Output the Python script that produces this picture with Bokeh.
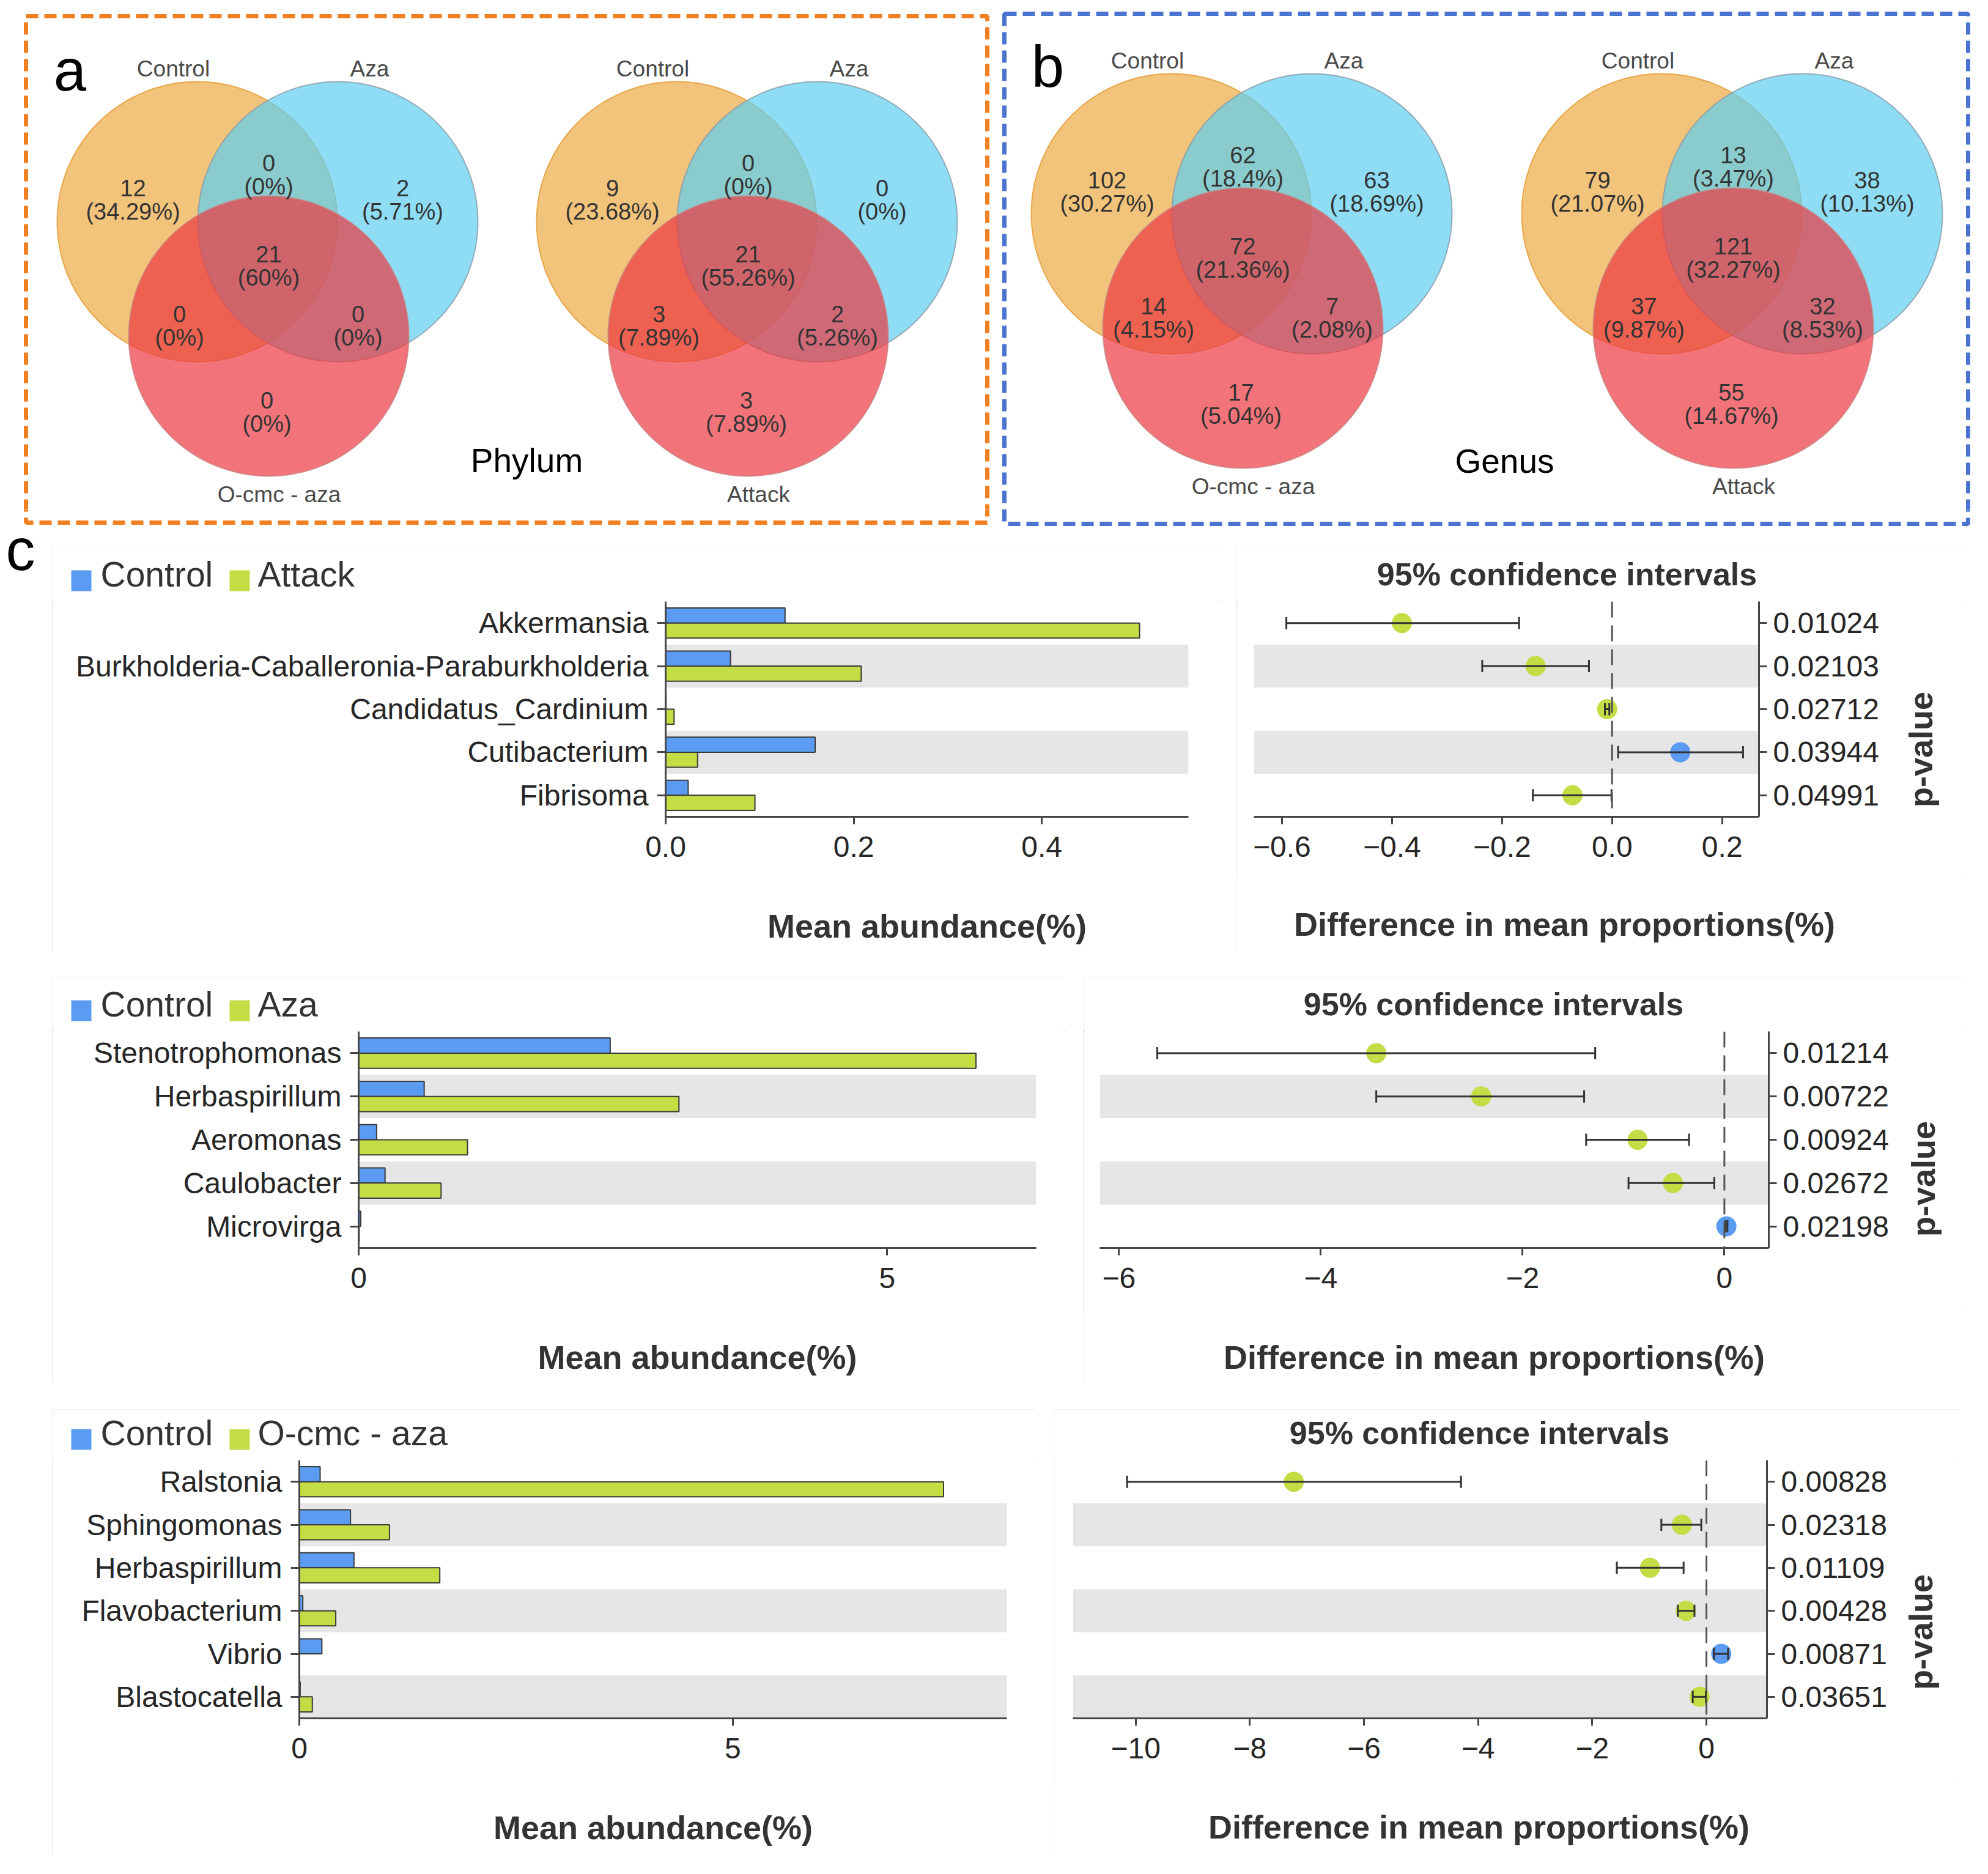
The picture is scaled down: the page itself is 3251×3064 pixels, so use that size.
import math
from bokeh.plotting import figure
from bokeh.models import (Range1d, FactorRange, Span, FixedTicker,
                          CustomJSTickFormatter, Spacer, ColumnDataSource)
from bokeh.layouts import column, row
from bokeh.transform import dodge
from bokeh.core.properties import value
from bokeh.embed import file_html
from bokeh.resources import INLINE

# ---------------------------------------------------------------- data
# Venn region order: A only, A&B, B only, A&B&C, A&C, B&C, C only
venn_a1_sets = ["Control", "Aza", "O-cmc - aza"]
venn_a1_counts = [12, 0, 2, 21, 0, 0, 0]
venn_a1_pcts = ["34.29%", "0%", "5.71%", "60%", "0%", "0%", "0%"]

venn_a2_sets = ["Control", "Aza", "Attack"]
venn_a2_counts = [9, 0, 0, 21, 3, 2, 3]
venn_a2_pcts = ["23.68%", "0%", "0%", "55.26%", "7.89%", "5.26%", "7.89%"]

venn_b1_sets = ["Control", "Aza", "O-cmc - aza"]
venn_b1_counts = [102, 62, 63, 72, 14, 7, 17]
venn_b1_pcts = ["30.27%", "18.4%", "18.69%", "21.36%", "4.15%", "2.08%", "5.04%"]

venn_b2_sets = ["Control", "Aza", "Attack"]
venn_b2_counts = [79, 13, 38, 121, 37, 32, 55]
venn_b2_pcts = ["21.07%", "3.47%", "10.13%", "32.27%", "9.87%", "8.53%", "14.67%"]

r1_genera = ["Akkermansia", "Burkholderia-Caballeronia-Paraburkholderia",
             "Candidatus_Cardinium", "Cutibacterium", "Fibrisoma"]
r1_groups = ["Control", "Attack"]
r1_control = [0.127, 0.069, 0.0005, 0.159, 0.024]
r1_treat = [0.504, 0.208, 0.009, 0.034, 0.095]
r1_diff = [-0.382, -0.139, -0.009, 0.124, -0.072]
r1_ci_low = [-0.592, -0.236, -0.013, 0.011, -0.144]
r1_ci_high = [-0.169, -0.042, -0.005, 0.238, -0.001]
r1_pvalues = ["0.01024", "0.02103", "0.02712", "0.03944", "0.04991"]
r1_abund_ticks = [0.0, 0.2, 0.4]
r1_diff_ticks = [-0.6, -0.4, -0.2, 0.0, 0.2]

r2_genera = ["Stenotrophomonas", "Herbaspirillum", "Aeromonas", "Caulobacter", "Microvirga"]
r2_groups = ["Control", "Aza"]
r2_control = [2.38, 0.62, 0.17, 0.25, 0.02]
r2_treat = [5.84, 3.03, 1.03, 0.78, 0.005]
r2_diff = [-3.45, -2.41, -0.86, -0.51, 0.02]
r2_ci_low = [-5.62, -3.45, -1.37, -0.95, 0.01]
r2_ci_high = [-1.28, -1.39, -0.35, -0.10, 0.03]
r2_pvalues = ["0.01214", "0.00722", "0.00924", "0.02672", "0.02198"]
r2_abund_ticks = [0, 5]
r2_diff_ticks = [-6, -4, -2, 0]

r3_genera = ["Ralstonia", "Sphingomonas", "Herbaspirillum", "Flavobacterium", "Vibrio", "Blastocatella"]
r3_groups = ["Control", "O-cmc - aza"]
r3_control = [0.24, 0.59, 0.63, 0.04, 0.26, 0.01]
r3_treat = [7.43, 1.04, 1.62, 0.42, 0.003, 0.15]
r3_diff = [-7.23, -0.43, -0.99, -0.36, 0.26, -0.12]
r3_ci_low = [-10.15, -0.79, -1.57, -0.50, 0.13, -0.24]
r3_ci_high = [-4.30, -0.09, -0.40, -0.21, 0.38, -0.01]
r3_pvalues = ["0.00828", "0.02318", "0.01109", "0.00428", "0.00871", "0.03651"]
r3_abund_ticks = [0, 5]
r3_diff_ticks = [-10, -8, -6, -4, -2, 0]

# ---------------------------------------------------------------- style
FONT = "Liberation Sans"
BLUE = "#5B9CF2"
GREEN = "#C4DD45"
AXC = "#454545"
TXT = "#262626"
BAND = "#e6e6e6"
BOX_STYLE = {"outline": "3px solid #dcdcdc", "outline-offset": "-3px"}

VENN_R = 229
CIRCLE_DX = [0, 230, 117]
CIRCLE_DY = [0, 0, 187]
VENN_FILL = ["#ECA941", "#5ECEF1", "#EC3840"]
VENN_LINE = ["#E39A30", "#8A9AA6", "#C98080"]
REGION_DX = [-105, 117, 336, 117, -29, 263, 114]
REGION_DY = [-36, -77, -36, 72, 170, 170, 311]
LABEL_DX = [-39, 282, 134]
LABEL_DY = [-250, -250, 446]


def blank_ref(x0, x1, y0, y1):
    """Figure whose data coordinates equal reference-image pixels."""
    p = figure(width=x1 - x0, height=y1 - y0, x_range=Range1d(x0, x1),
               y_range=Range1d(y1, y0), toolbar_location=None, output_backend="svg",
               x_axis_location=None, y_axis_location=None, min_border=0)
    p.xgrid.visible = False
    p.ygrid.visible = False
    p.outline_line_color = None
    return p


def blank(w, h):
    return blank_ref(0, w, 0, h)


def txt(p, x, y, t, size, bold=False, align="left", baseline="middle",
        color=TXT, angle=0.0):
    p.text(x=x, y=y, text=t, text_font=value(FONT), text_font_size=value(size),
           text_font_style=value("bold" if bold else "normal"),
           text_align=align, text_baseline=baseline, text_color=color, angle=angle)


def draw_boxes(p):
    p.quad(left=[50, 1650], right=[1622, 3226], top=[34, 30], bottom=[862, 864],
           fill_color=None, line_color=["#F07F22", "#4A74D0"], line_width=7,
           line_dash="20 10")


def draw_venn(p, anchor, sets, counts, pcts):
    ax, ay = anchor
    for i in range(3):
        p.circle(x=[ax + CIRCLE_DX[i]], y=[ay + CIRCLE_DY[i]], radius=VENN_R,
                 fill_color=VENN_FILL[i], fill_alpha=0.7,
                 line_color=VENN_LINE[i], line_width=2, line_alpha=0.8)
    rx = [ax + d for d in REGION_DX]
    ry = [ay + d for d in REGION_DY]
    txt(p, rx, [y - 19 for y in ry], [str(c) for c in counts], "38px",
        align="center", color="#333333")
    txt(p, rx, [y + 19 for y in ry], ["(%s)" % s for s in pcts], "38px",
        align="center", color="#333333")
    txt(p, [ax + d for d in LABEL_DX], [ay + d for d in LABEL_DY], sets, "37px",
        align="center", color="#4a4a4a")


def tick_fmt(dec):
    return CustomJSTickFormatter(args=dict(dec=dec), code=
        "const s = Math.abs(tick).toFixed(dec); return (tick < -1e-9 ? '\u2212' : '') + s;")


def style_axis(ax, out, standoff):
    ax.axis_line_color = AXC
    ax.axis_line_width = 3
    ax.major_tick_line_color = AXC
    ax.major_tick_line_width = 3
    ax.major_tick_in = 0
    ax.major_tick_out = out
    ax.minor_tick_line_color = None
    ax.major_label_standoff = standoff
    ax.major_label_text_font = FONT
    ax.major_label_text_font_size = "48px"
    ax.major_label_text_color = TXT


def left_panel(genera, groups, ctrl, trt, xmax, ticks, dec, W, H, hh, fl, fr, fb):
    hdr = blank(W, hh)
    hdr.quad(left=[31, 290], right=[64, 323], top=[hh - 51] * 2, bottom=[hh - 17] * 2,
             fill_color=[BLUE, GREEN], line_color=None)
    txt(hdr, [79, 336], [hh - 45] * 2, groups, "57px", color="#333333")

    cats = genera[::-1]
    p = figure(width=W, height=H - hh, y_range=FactorRange(factors=cats),
               x_range=Range1d(0, xmax), toolbar_location=None, output_backend="svg",
               min_border_left=fl, min_border_right=fr, min_border_top=0,
               min_border_bottom=fb)
    p.xgrid.visible = False
    p.ygrid.visible = False
    p.outline_line_color = None
    bands = genera[1::2]
    p.hbar(y=bands, left=0, right=xmax, height=1.0, fill_color=BAND, line_color=None)
    src = ColumnDataSource(dict(cat=genera, ctrl=ctrl, trt=trt))
    p.hbar(y=dodge("cat", 0.175, range=p.y_range), left=0, right="ctrl", height=0.35,
           source=src, fill_color=BLUE, line_color="#3a3a3a", line_width=2)
    p.hbar(y=dodge("cat", -0.175, range=p.y_range), left=0, right="trt", height=0.35,
           source=src, fill_color=GREEN, line_color="#3a3a3a", line_width=2)
    style_axis(p.xaxis, 12, 20)
    style_axis(p.yaxis, 14, 14)
    p.xaxis.ticker = FixedTicker(ticks=ticks)
    p.xaxis.formatter = tick_fmt(dec)
    p.xaxis.axis_label = "Mean abundance(%)"
    p.xaxis.axis_label_text_font = FONT
    p.xaxis.axis_label_text_font_size = "54px"
    p.xaxis.axis_label_text_font_style = "bold"
    p.xaxis.axis_label_text_color = "#333333"
    p.xaxis.axis_label_standoff = 80
    return column(hdr, row(p), styles=BOX_STYLE)


def right_panel(genera, pvals, diff, lo, hi, xr, ticks, dec, W, H, hh, cw, ch,
                fl, fr, title_x, px, py, lx, ly):
    hdr = blank(W, hh)
    txt(hdr, [title_x], [hh - 45], ["95% confidence intervals"], "52px", bold=True,
        align="center", color="#333333")

    cats = pvals[::-1]
    p = figure(width=cw, height=ch, y_range=FactorRange(factors=cats),
               x_range=Range1d(*xr), y_axis_location="right",
               toolbar_location=None, output_backend="svg",
               min_border_left=fl, min_border_right=fr, min_border_top=0,
               min_border_bottom=97)
    p.xgrid.visible = False
    p.ygrid.visible = False
    p.outline_line_color = None
    bands = pvals[1::2]
    p.hbar(y=bands, left=xr[0], right=xr[1], height=1.0, fill_color=BAND, line_color=None)
    p.add_layout(Span(location=0, dimension="height", line_color="#555555",
                      line_width=3, line_dash="26 13"))
    colors = [GREEN if d < 0 else BLUE for d in diff]
    p.scatter(x=diff, y=pvals, size=33, fill_color=colors, line_color=None)
    p.segment(x0=lo, y0=pvals, x1=hi, y1=pvals, line_color="#333333", line_width=3)
    p.scatter(x=lo + hi, y=pvals + pvals, marker="dash", size=20, angle=math.pi / 2,
              line_color="#333333", line_width=3)
    style_axis(p.xaxis, 12, 20)
    style_axis(p.yaxis, 13, 10)
    p.xaxis.ticker = FixedTicker(ticks=ticks)
    p.xaxis.formatter = tick_fmt(dec)

    pf = blank(W - cw, ch)
    txt(pf, [px], [py], ["p-value"], "54px", bold=True, align="center",
        color="#333333", angle=math.pi / 2)
    ft = blank(W, H - hh - ch)
    txt(ft, [lx], [ly], ["Difference in mean proportions(%)"], "54px", bold=True,
        align="center", color="#333333")
    return column(hdr, row(p, column(pf)), ft, styles=BOX_STYLE)


# ---------------------------------------------------------------- venn section
Y_SPLIT = 840      # reference y where the Venn figure ends
BOX_TOP = 902      # reference y of the first row of panel boxes

venn = blank_ref(8, 3243, 8, Y_SPLIT)
draw_boxes(venn)
draw_venn(venn, (330, 370), venn_a1_sets, venn_a1_counts, venn_a1_pcts)
draw_venn(venn, (1114, 370), venn_a2_sets, venn_a2_counts, venn_a2_pcts)
draw_venn(venn, (1923, 357), venn_b1_sets, venn_b1_counts, venn_b1_pcts)
draw_venn(venn, (2725, 357), venn_b2_sets, venn_b2_counts, venn_b2_pcts)
txt(venn, [122, 1721], [122, 116], ["a", "b"], "96px", align="center", color="#000000")
txt(venn, [869, 2468], [760, 761], ["Phylum", "Genus"], "55px", align="center",
    color="#000000")

# ---------------------------------------------------------------- panels
L1 = left_panel(r1_genera, r1_groups, r1_control, r1_treat, 0.556, r1_abund_ticks, 1,
                1910, 663, 89, 1003, 52, 222)
R1 = right_panel(r1_genera, r1_pvalues, r1_diff, r1_ci_low, r1_ci_high, (-0.651, 0.267),
                 r1_diff_ticks, 1, 1186, 663, 89, 1070, 449, 28, 216,
                 540, 48, 242, 536, 78)
L2 = left_panel(r2_genera, r2_groups, r2_control, r2_treat, 6.41, r2_abund_ticks, 0,
                1657, 665, 89, 501, 48, 222)
R2 = right_panel(r2_genera, r2_pvalues, r2_diff, r2_ci_low, r2_ci_high, (-6.19, 0.44),
                 r2_diff_ticks, 0, 1439, 665, 89, 1331, 451, 27, 210,
                 671, 42, 241, 672, 81)
L3 = left_panel(r3_genera, r3_groups, r3_control, r3_treat, 8.16, r3_abund_ticks, 0,
                1609, 728, 83, 404, 48, 223)
R3 = right_panel(r3_genera, r3_pvalues, r3_diff, r3_ci_low, r3_ci_high, (-11.1, 1.06),
                 r3_diff_ticks, 0, 1482, 728, 83, 1374, 519, 31, 208,
                 696, 43, 281, 695, 80)

# left strip holding the "c" and the lower-left corner of box a
c_fig = blank_ref(8, 93, Y_SPLIT, BOX_TOP + 663)
draw_boxes(c_fig)
txt(c_fig, [41], [906], ["c"], "96px", align="center", color="#000000")

# strip between the Venn figure and the first panel row (bottom of the dashed boxes)
strip = blank_ref(93, 3243, Y_SPLIT, BOX_TOP)
draw_boxes(strip)

row1 = row(c_fig, column(strip, row(L1, Spacer(width=27, height=663), R1)))
row2 = row(Spacer(width=85, height=665), L2, Spacer(width=29, height=665), R2)
row3 = row(Spacer(width=85, height=728), L3, Spacer(width=29, height=728), R3)

layout = column(venn, row1, Spacer(width=3235, height=40), row2,
                Spacer(width=3235, height=42), row3)

open("out.html", "w").write(file_html(layout, INLINE))
